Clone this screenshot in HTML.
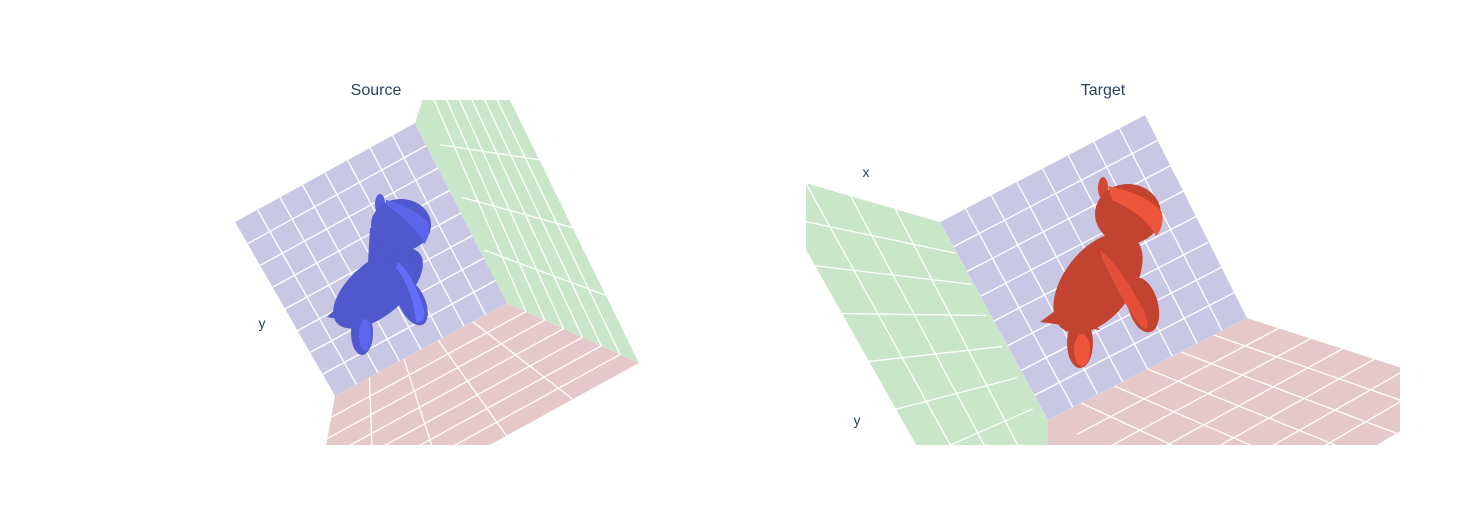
<!DOCTYPE html>
<html><head><meta charset="utf-8"><style>
html,body{margin:0;padding:0;background:#fff;width:1480px;height:525px;overflow:hidden}
svg{display:block;font-family:"Liberation Sans",sans-serif}
</style></head><body>
<svg id="fig" width="1480" height="525">
<defs>
<clipPath id="c1"><rect x="150" y="100" width="580" height="345"/></clipPath>
<clipPath id="c2"><rect x="806" y="100" width="594" height="345"/></clipPath>
</defs>
<text x="376" y="95" text-anchor="middle" font-size="16" fill="#2a3f5f">Source</text>
<text x="1103" y="95" text-anchor="middle" font-size="16" fill="#2a3f5f">Target</text>
<g id="s1" clip-path="url(#c1)"></g>
<g id="s2" clip-path="url(#c2)"></g>
<g>
  <ellipse cx="380" cy="204" rx="5" ry="10" fill="#5560d8"/>
  <ellipse cx="378" cy="288" rx="54" ry="27" transform="rotate(-40 378 288)" fill="#4f58cc"/>
  <polygon points="370,228 405,230 412,265 368,262" fill="#4f58cc"/>
  <ellipse cx="401" cy="225" rx="30" ry="26" fill="#4f58cc"/>
  <ellipse cx="412" cy="302" rx="13" ry="25" transform="rotate(-25 412 302)" fill="#4f58cc"/>
  <ellipse cx="362" cy="333" rx="11" ry="22" fill="#4f58cc"/>
  <polygon points="327,317 345,300 352,322" fill="#4f58cc"/>
  <path d="M398,262 C410,272 418,290 424,310 C426,318 422,324 416,322 C414,300 406,280 396,268Z" fill="#636efa"/>
  <path d="M386,200 C400,203 418,212 428,222 C430,232 428,240 424,244 C418,230 405,218 386,205Z" fill="#5a65ea"/>
  <ellipse cx="365" cy="335" rx="6" ry="16" fill="#5c67ee"/>
</g>
<g>
  <ellipse cx="1103" cy="188" rx="5" ry="11" fill="#d04a34"/>
  <ellipse cx="1098" cy="283" rx="58" ry="34" transform="rotate(-52 1098 283)" fill="#c24430"/>
  <ellipse cx="1128" cy="214" rx="33" ry="30" fill="#c24430"/>
  <polygon points="1040,322 1070,300 1100,330" fill="#c24430"/>
  <ellipse cx="1080" cy="343" rx="13" ry="25" fill="#c24430"/>
  <ellipse cx="1143" cy="305" rx="15" ry="28" transform="rotate(-15 1143 305)" fill="#c24430"/>
  <path d="M1108,186 C1128,190 1150,198 1162,212 C1164,224 1160,232 1156,236 C1148,222 1135,210 1112,200Z" fill="#ee553b"/>
  <path d="M1100,250 C1115,262 1128,282 1138,300 C1145,312 1150,322 1146,330 C1132,318 1122,298 1112,278 C1106,266 1102,258 1100,250Z" fill="#e44f38"/>
  <ellipse cx="1082" cy="350" rx="8" ry="16" fill="#ee553b"/>
</g>
<text x="262" y="328" text-anchor="middle" font-size="14" fill="#2a3f5f">y</text>
<text x="866" y="177" text-anchor="middle" font-size="14" fill="#2a3f5f">x</text>
<text x="857" y="425" text-anchor="middle" font-size="14" fill="#2a3f5f">y</text>
</svg>
<script>
const NS='http://www.w3.org/2000/svg';
const wallDivs=[8,8];
const floorDivs=[6,7];
const sideDivs=[4,7];
function lerp(a,b,t){return [a[0]+(b[0]-a[0])*t,a[1]+(b[1]-a[1])*t];}
function poly(g,pts,fill,name){
  const p=document.createElementNS(NS,'polygon');
  p.setAttribute('points',pts.map(q=>q.join(',')).join(' '));
  p.setAttribute('fill',fill);
  
  
  g.appendChild(p);
}
function line(g,a,b,name){
  const l=document.createElementNS(NS,'line');
  l.setAttribute('x1',a[0]);l.setAttribute('y1',a[1]);l.setAttribute('x2',b[0]);l.setAttribute('y2',b[1]);
  l.setAttribute('stroke','#fff');l.setAttribute('stroke-width','1.3');
  
  
  g.appendChild(l);
}
function grid(g,q,nu,nv,name){
  for(let i=1;i<nu;i++){const t=i/nu;line(g,lerp(q[0],q[1],t),lerp(q[3],q[2],t),name);}
  for(let j=1;j<nv;j++){const t=j/nv;line(g,lerp(q[0],q[3],t),lerp(q[1],q[2],t),name);}
}
function plane(g,shape,q,fill,nu,nv,name){
  const sub=document.createElementNS(NS,'g');
  const id='cp'+name;
  const cp=document.createElementNS(NS,'clipPath');cp.setAttribute('id',id);
  const pp=document.createElementNS(NS,'polygon');pp.setAttribute('points',shape.map(x=>x.join(',')).join(' '));
  cp.appendChild(pp);g.appendChild(cp);
  sub.setAttribute('clip-path','url(#'+id+')');
  
  
  g.appendChild(sub);
  poly(sub,shape,fill,name);grid(sub,q,nu,nv,name+'-gridline');
}
const g1=document.getElementById('s1');
const f1=[[335,396],[507,303],[639,363],[308,545]];
plane(g1,f1,f1,'#e5c8c9',5,floorDivs[1],'source-floor-plane');
plane(g1,[[507,303],[415,123],[425,92],[506,92],[639,363]],[[507,303],[418,92],[506,92],[639,363]],'#c9e6c9',sideDivs[0],sideDivs[1],'source-side-plane');
const w1=[[235,222],[415,123],[507,303],[335,396]];
plane(g1,w1,w1,'#c8c8e4',wallDivs[0],wallDivs[1],'source-back-wall');
const g2=document.getElementById('s2');
const f2=[[1048,420],[1247,318],[1470,390],[1250,520]];
plane(g2,[[1048,420],[1247,318],[1470,390],[1250,520],[1045,520]],f2,'#e5c8c9',floorDivs[0],floorDivs[1],'target-floor-plane');
plane(g2,[[761,170],[940,222],[1048,420],[1048,460],[950,505]],[[761,170],[940,222],[1048,440],[950,505]],'#c9e6c9',sideDivs[0],sideDivs[1],'target-side-plane');
const w2=[[940,222],[1145,115],[1247,318],[1048,420]];
plane(g2,w2,w2,'#c8c8e4',wallDivs[0],wallDivs[1],'target-back-wall');
</script>
</body></html>
